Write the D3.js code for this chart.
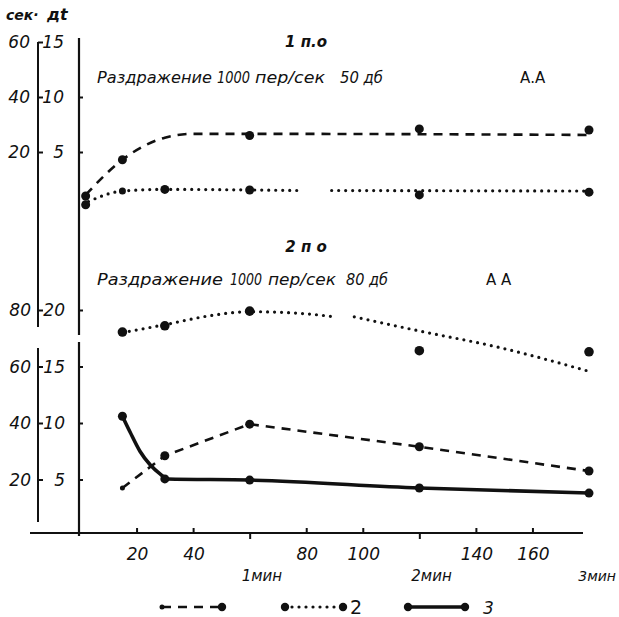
<!DOCTYPE html>
<html>
<head>
<meta charset="utf-8">
<script src="https://cdn.jsdelivr.net/npm/d3@7"></script>
<style>
  html, body { margin: 0; padding: 0; background: #fff; }
  svg { display: block; }
  text { font-family: "DejaVu Sans", "Liberation Sans", sans-serif; fill: #111; }
  .it { font-style: italic; }
</style>
</head>
<body>
<script>
// ---------- DATA ----------
// time in seconds
const upperDashT = [2, 15, 60, 120, 180];
const upperDashV = [1.0, 4.3, 6.5, 7.1, 7.0];
const upperDashFitT = [2, 15, 30, 40, 60, 180];
const upperDashFitV = [1.1, 4.3, 6.3, 6.65, 6.65, 6.55];

const upperDotT = [2, 15, 30, 60, 120, 180];
const upperDotV = [0.2, 1.45, 1.6, 1.55, 1.1, 1.35];
const upperDotFitT = [3, 15, 30, 60, 77, null, 89, 180];
const upperDotFitV = [0.5, 1.45, 1.6, 1.55, 1.5, null, 1.5, 1.45];

const lowerDotT = [15, 30, 60, 120, 180];
const lowerDotV = [18.05, 18.6, 19.9, 16.4, 16.3];
const lowerDotFitT = [15, 30, 46, 60, 78, 90, null, 97, 119, 148, 181];
const lowerDotFitV = [18.0, 18.7, 19.5, 19.85, 19.7, 19.4, null, 19.4, 18.2, 16.7, 14.5];

const lowerDashT = [15, 30, 60, 120, 180];
const lowerDashV = [4.25, 7.1, 9.9, 7.9, 5.75];

const lowerSolidT = [15, 30, 60, 120, 180];
const lowerSolidV = [10.6, 5.05, 4.95, 4.25, 3.8];
const lowerSolidFitT = [15, 17.7, 21.2, 24.8, 28.3, 31, 60, 120, 180];
const lowerSolidFitV = [10.6, 9.2, 7.5, 6.3, 5.5, 5.05, 4.95, 4.25, 3.8];

// tick labels
const upperDtTicks = [5, 10, 15];
const upperDtLabels = ["5", "10", "15"];
const upperSecLabels = ["20", "40", "60"];
const lowerDtTicks = [5, 10, 15, 20];
const lowerDtLabels = ["5", "10", "15", "20"];
const lowerSecLabels = ["20", "40", "60", "80"];
const xTicks = [20, 40, 60, 80, 100, 120, 140, 160];
const xTickLabels = ["20", "40", "", "80", "100", "", "140", "160"];
const minuteTicks = [60, 120, 180];
const minuteLabels = ["1мин", "2мин", "3мин"];
const yAxisTitle = ["сек·", "дt"];
const panelTitles = ["1 п.о", "2 п о"];
const stimLabels = [
  ["Раздражение", "1000", "пер/сек", "50 дб", "А.А"],
  ["Раздражение", "1000", "пер/сек", "80 дб", "А А"]
];
const legendLabels = ["", "2", "3"];

// ---------- SCALES ----------
const W = 619, H = 617;
const svg = d3.select("body").append("svg").attr("width", W).attr("height", H);
svg.append("rect").attr("width", W).attr("height", H).attr("fill", "#fff");

const x = d3.scaleLinear().domain([0, 180]).range([80, 589]);
const yU = d3.scaleLinear().domain([0, 15]).range([207, 42]);
const yL = d3.scaleLinear().domain([0, 20]).range([536, 310]);

const ink = "#111";
const zip = (T, V) => T.map((t, i) => [t, V[i]]);

// ---------- AXES ----------
const g = svg.append("g");
const ox = 38, mx = 79;
g.append("line").attr("x1", ox).attr("x2", ox).attr("y1", yU(15)).attr("y2", 327)
  .attr("stroke", ink).attr("stroke-width", 2);
g.append("line").attr("x1", ox).attr("x2", ox).attr("y1", 348).attr("y2", 522)
  .attr("stroke", ink).attr("stroke-width", 2);

const tickU = d3.axisRight(yU).tickValues(upperDtTicks).tickSize(5).tickFormat("");
const tickL = d3.axisRight(yL).tickValues(lowerDtTicks).tickSize(5).tickFormat("");
[[tickU, ox], [tickL, ox], [d3.axisRight(yU).tickValues([5, 10]).tickSize(4).tickFormat(""), mx],
 [d3.axisRight(yL).tickValues(lowerDtTicks).tickSize(4).tickFormat(""), mx]].forEach(([ax, xx]) => {
  const a = g.append("g").attr("transform", `translate(${xx},0)`).call(ax);
  a.select(".domain").remove();
  a.selectAll("line").attr("stroke", ink).attr("stroke-width", 2);
});

g.append("line").attr("x1", mx).attr("x2", mx).attr("y1", 38).attr("y2", 335)
  .attr("stroke", ink).attr("stroke-width", 2.2);
g.append("line").attr("x1", mx).attr("x2", mx).attr("y1", 342).attr("y2", 536)
  .attr("stroke", ink).attr("stroke-width", 2.2);

const lblSize = 17;
upperDtTicks.forEach((v, i) => {
  g.append("text").attr("class", "it").attr("x", 30).attr("y", yU(v) + 6)
    .attr("text-anchor", "end").attr("font-size", lblSize).text(upperSecLabels[i]);
  g.append("text").attr("class", "it").attr("x", 64).attr("y", yU(v) + 6)
    .attr("text-anchor", "end").attr("font-size", lblSize).text(upperDtLabels[i]);
});
lowerDtTicks.forEach((v, i) => {
  g.append("text").attr("class", "it").attr("x", 31).attr("y", yL(v) + 6)
    .attr("text-anchor", "end").attr("font-size", lblSize).text(lowerSecLabels[i]);
  g.append("text").attr("class", "it").attr("x", 65).attr("y", yL(v) + 6)
    .attr("text-anchor", "end").attr("font-size", lblSize).text(lowerDtLabels[i]);
});
g.append("text").attr("class", "it").attr("x", 6).attr("y", 20).attr("font-size", 14)
  .attr("font-weight", "bold").text(yAxisTitle[0]);
g.append("text").attr("class", "it").attr("x", 47).attr("y", 20).attr("font-size", 16)
  .attr("font-weight", "bold").text(yAxisTitle[1]);

const xAxisY = 533;
g.append("line").attr("x1", 30).attr("x2", 583).attr("y1", xAxisY).attr("y2", xAxisY)
  .attr("stroke", ink).attr("stroke-width", 2);
const xt = g.append("g").attr("transform", `translate(0,${xAxisY})`)
  .call(d3.axisTop(x).tickValues(xTicks.filter(t => !minuteTicks.includes(t))).tickSize(5).tickFormat(""));
xt.select(".domain").remove();
xt.selectAll("line").attr("stroke", ink).attr("stroke-width", 2);
const xb = g.append("g").attr("transform", `translate(0,${xAxisY})`)
  .call(d3.axisBottom(x).tickValues(minuteTicks.filter(t => t < 180)).tickSize(6).tickFormat(""));
xb.select(".domain").remove();
xb.selectAll("line").attr("stroke", ink).attr("stroke-width", 2);

xTicks.forEach((t, i) => {
  if (!xTickLabels[i]) return;
  g.append("text").attr("class", "it").attr("x", x(t) + 1).attr("y", 560)
    .attr("text-anchor", "middle").attr("font-size", 17).text(xTickLabels[i]);
});
minuteTicks.forEach((t, i) => {
  const last = i === minuteTicks.length - 1;
  g.append("text").attr("class", "it")
    .attr("x", last ? W - 3 : x(t) - 8).attr("y", 581)
    .attr("text-anchor", last ? "end" : "start")
    .attr("font-size", last ? 14 : 15).text(minuteLabels[i]);
});

// ---------- TEXT ----------
const titleY = [47, 252];
panelTitles.forEach((s, i) => {
  g.append("text").attr("class", "it").attr("x", 306).attr("y", titleY[i])
    .attr("text-anchor", "middle").attr("font-size", 15).attr("font-weight", "bold").text(s);
});
const stimY = [83, 285];
const stimX = [[97, 217, 255, 340, 520], [97, 230, 268, 346, 486]];
const stimW = [[115, 33, 70, 43, 0], [126, 32, 68, 42, 0]];
stimLabels.forEach((row, r) => {
  row.forEach((s, i) => {
    const t = g.append("text").attr("x", stimX[r][i]).attr("y", stimY[r])
      .attr("font-size", i === 4 ? 15 : 16).text(s);
    if (i < 4) t.attr("class", "it").attr("textLength", stimW[r][i]).attr("lengthAdjust", "spacingAndGlyphs");
  });
});

// ---------- SERIES ----------
const lineU = d3.line().defined(d => d[0] != null).x(d => x(d[0])).y(d => yU(d[1]));
const lineL = d3.line().defined(d => d[0] != null).x(d => x(d[0])).y(d => yL(d[1]));
const dashStyle = s => s.attr("fill", "none").attr("stroke", ink).attr("stroke-width", 2.6).attr("stroke-dasharray", "9,7");
const dotStyle = s => s.attr("fill", "none").attr("stroke", ink).attr("stroke-width", 3.2)
  .attr("stroke-linecap", "round").attr("stroke-dasharray", "0,7");
const solidStyle = s => s.attr("fill", "none").attr("stroke", ink).attr("stroke-width", 3.6).attr("stroke-linecap", "round");

const series = svg.append("g");
series.append("path").datum(zip(upperDashFitT, upperDashFitV))
  .attr("d", lineU.curve(d3.curveMonotoneX)).call(dashStyle);
series.append("path").datum(zip(upperDotFitT, upperDotFitV))
  .attr("d", lineU.curve(d3.curveMonotoneX)).call(dotStyle);
series.append("path").datum(zip(lowerDotFitT, lowerDotFitV))
  .attr("d", lineL.curve(d3.curveMonotoneX)).call(dotStyle);
series.append("path").datum(zip(lowerDashT, lowerDashV))
  .attr("d", lineL.curve(d3.curveLinear)).call(dashStyle);
series.append("path").datum(zip(lowerSolidFitT, lowerSolidFitV))
  .attr("d", lineL.curve(d3.curveMonotoneX)).call(solidStyle);

const dots = (T, V, ys, r) => {
  series.selectAll(null).data(zip(T, V)).enter().append("circle")
    .attr("cx", d => x(d[0])).attr("cy", d => ys(d[1]))
    .attr("r", (d, i) => (typeof r === "function" ? r(i) : r)).attr("fill", ink);
};
dots(upperDashT, upperDashV, yU, 4.5);
dots(upperDotT, upperDotV, yU, i => (i === 1 ? 3.5 : 4.5));
dots(lowerDotT, lowerDotV, yL, 4.8);
dots(lowerDashT, lowerDashV, yL, i => (i === 0 ? 2.5 : 4.5));
dots(lowerSolidT, lowerSolidV, yL, 4.5);

// ---------- LEGEND ----------
const ly = 607;
const leg = svg.append("g");
leg.append("line").attr("x1", 162).attr("x2", 222).attr("y1", ly).attr("y2", ly).call(dashStyle);
leg.append("circle").attr("cx", 162).attr("cy", ly).attr("r", 2.5).attr("fill", ink);
leg.append("circle").attr("cx", 222).attr("cy", ly).attr("r", 4.2).attr("fill", ink);

leg.append("line").attr("x1", 285).attr("x2", 343).attr("y1", ly).attr("y2", ly).call(dotStyle);
leg.append("circle").attr("cx", 285).attr("cy", ly).attr("r", 4.2).attr("fill", ink);
leg.append("circle").attr("cx", 343).attr("cy", ly).attr("r", 4.2).attr("fill", ink);
leg.append("text").attr("x", 350).attr("y", ly + 7).attr("font-size", 19).text(legendLabels[1]);

leg.append("line").attr("x1", 408).attr("x2", 465).attr("y1", ly).attr("y2", ly).call(solidStyle);
leg.append("circle").attr("cx", 408).attr("cy", ly).attr("r", 4.2).attr("fill", ink);
leg.append("circle").attr("cx", 465).attr("cy", ly).attr("r", 4.2).attr("fill", ink);
leg.append("text").attr("class", "it").attr("x", 483).attr("y", ly + 7).attr("font-size", 17).text(legendLabels[2]);
</script>
</body>
</html>
